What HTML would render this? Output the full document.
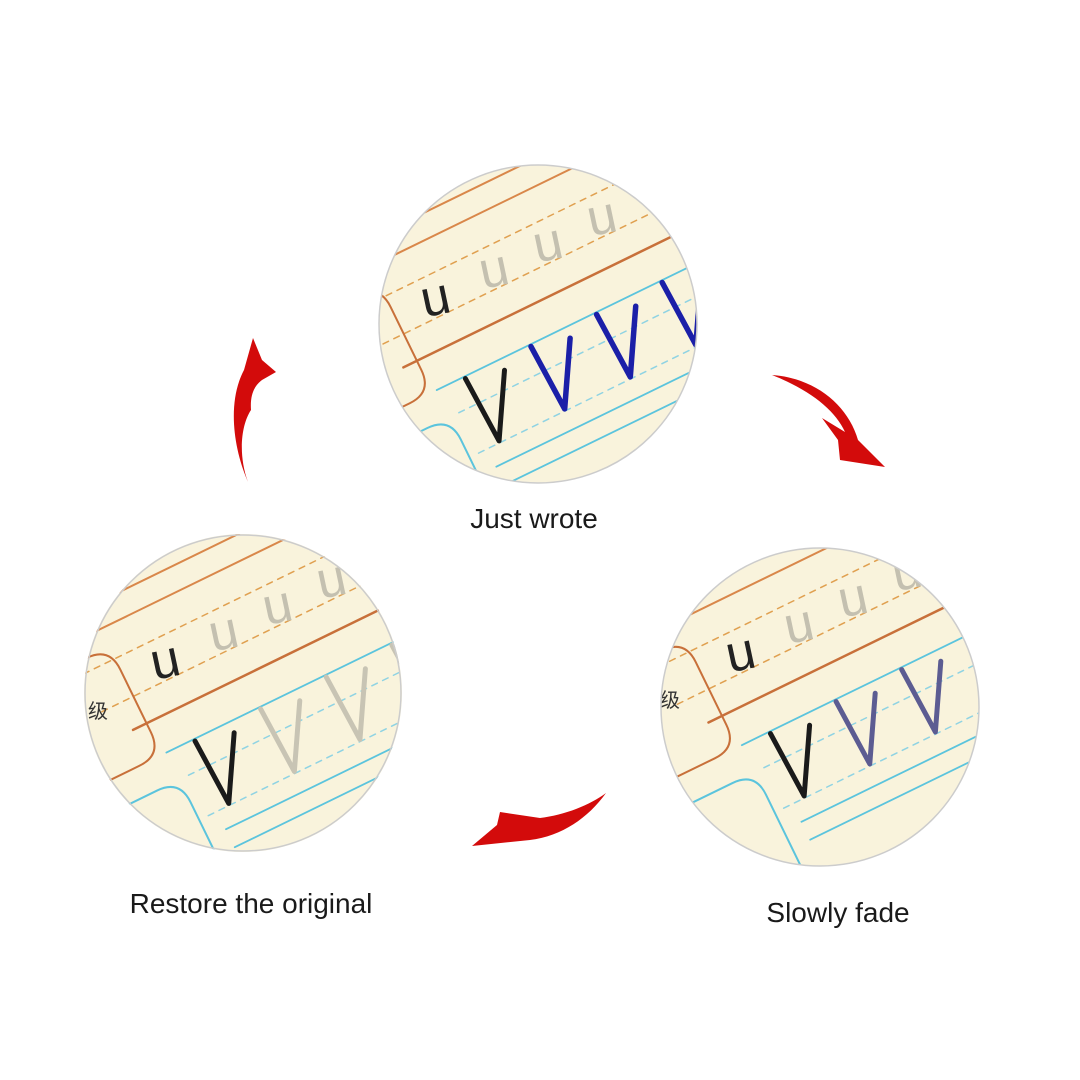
<!DOCTYPE html>
<html><head><meta charset="utf-8"><style>
html,body{margin:0;padding:0;background:#fff;}
svg{display:block}
text{font-family:"Liberation Sans",sans-serif}
</style></head><body>
<svg width="1080" height="1080" viewBox="0 0 1080 1080" xmlns="http://www.w3.org/2000/svg">
<defs>
<clipPath id="cc"><circle cx="0" cy="0" r="159"/></clipPath>
<g id="paper">
  <rect x="-300" y="-300" width="600" height="600" fill="#f9f3dc"/>
  <g fill="none" stroke-linecap="round">
    <line x1="-300" y1="-150" x2="300" y2="-150" stroke="#d9874a" stroke-width="2"/>
    <line x1="-300" y1="-125" x2="300" y2="-125" stroke="#d9874a" stroke-width="2"/>
    <line x1="-160" y1="-92" x2="300" y2="-92" stroke="#e0a050" stroke-width="1.5" stroke-dasharray="6 6"/>
    <line x1="-160" y1="-50" x2="300" y2="-50" stroke="#e0a050" stroke-width="1.5" stroke-dasharray="6 6"/>
    <line x1="-140" y1="-20" x2="300" y2="-20" stroke="#c8703a" stroke-width="2.5"/>
    <path d="M-300,-105 L-150,-105 Q-125,-105 -125,-80 L-125,-10 Q-125,15 -150,15 L-300,15" stroke="#c8703a" stroke-width="2"/>
    <line x1="-120" y1="15" x2="300" y2="15" stroke="#5bc4dd" stroke-width="1.8"/>
    <line x1="-110" y1="45" x2="300" y2="45" stroke="#8fd3e3" stroke-width="1.5" stroke-dasharray="6 6"/>
    <line x1="-110" y1="90" x2="300" y2="90" stroke="#8fd3e3" stroke-width="1.5" stroke-dasharray="6 6"/>
    <line x1="-100" y1="110" x2="300" y2="110" stroke="#5bc4dd" stroke-width="1.8"/>
    <line x1="-100" y1="130" x2="300" y2="130" stroke="#5bc4dd" stroke-width="1.8"/>
    <path d="M-300,45 L-145,45 Q-120,45 -120,70 L-120,300" stroke="#5bc4dd" stroke-width="2"/>
  </g>
  <g font-size="52" fill="#c4c0b0" text-anchor="middle">
    <text transform="translate(-20,-52) rotate(14)">u</text>
    <text transform="translate(40,-52) rotate(14)">u</text>
    <text transform="translate(100,-52) rotate(14)">u</text>
    <text transform="translate(160,-52) rotate(14)">u</text>
  </g>
  <text transform="translate(-85,-52) rotate(14)" font-size="52" fill="#222" text-anchor="middle">u</text>
  <path transform="translate(-78,55) rotate(14)" d="M-20,-34 L0,34 L20,-34" fill="none" stroke="#1a1a1a" stroke-width="5" stroke-linecap="round" stroke-linejoin="round"/>
</g>
</defs>

<g transform="translate(538,324)">
  <g clip-path="url(#cc)"><g transform="rotate(-26)">
    <use href="#paper"/>
    <g fill="none" stroke="#1b1fa8" stroke-width="5.5" stroke-linecap="round" stroke-linejoin="round">
      <path transform="translate(-5,55) rotate(14)" d="M-20,-34 L0,34 L20,-34"/>
      <path transform="translate(68,55) rotate(14)" d="M-20,-34 L0,34 L20,-34"/>
      <path transform="translate(141,55) rotate(14)" d="M-20,-34 L0,34 L20,-34"/>
    </g>
  </g></g>
  <circle r="159" fill="none" stroke="#ccc" stroke-width="1.5"/>
</g>

<g transform="translate(243,693)">
  <g clip-path="url(#cc)"><g transform="rotate(-26) translate(25,5)">
    <use href="#paper"/>
    <g fill="none" stroke="#c8c4b4" stroke-width="5" stroke-linecap="round" stroke-linejoin="round">
      <path transform="translate(-5,55) rotate(14)" d="M-20,-34 L0,34 L20,-34"/>
      <path transform="translate(68,55) rotate(14)" d="M-20,-34 L0,34 L20,-34"/>
      <path transform="translate(141,55) rotate(14)" d="M-20,-34 L0,34 L20,-34"/>
    </g>
  </g></g>
  <text x="-155" y="25" font-size="20" font-family="Noto Sans CJK SC,sans-serif" fill="#333">级</text>
  <circle r="158" fill="none" stroke="#ccc" stroke-width="1.5"/>
</g>

<g transform="translate(820,707)">
  <g clip-path="url(#cc)"><g transform="rotate(-26) translate(33,-15)">
    <use href="#paper"/>
    <g fill="none" stroke="#5c5c92" stroke-width="5" stroke-linecap="round" stroke-linejoin="round">
      <path transform="translate(-5,55) rotate(14)" d="M-20,-34 L0,34 L20,-34"/>
      <path transform="translate(68,55) rotate(14)" d="M-20,-34 L0,34 L20,-34"/>
      <path transform="translate(141,55) rotate(14)" d="M-20,-34 L0,34 L20,-34"/>
    </g>
  </g></g>
  <text x="-160" y="0" font-size="20" font-family="Noto Sans CJK SC,sans-serif" fill="#333">级</text>
  <circle r="159" fill="none" stroke="#ccc" stroke-width="1.5"/>
</g>

<g fill="#d30b0b">
  <path d="M248,482 C232,445 228,400 244,370 L253,338 L262,360 L276,372 L262,380 C254,386 250,395 251,410 C241,425 238,455 248,482 Z"/>
  <path d="M772,375 C815,378 848,405 858,440 L885,467 L840,460 L838,440 L822,418 L845,432 C835,410 810,390 772,375 Z"/>
  <path d="M606,793 C588,818 562,836 530,840 L472,846 L497,825 L500,812 L540,818 C565,815 590,805 606,793 Z"/>
</g>

<g font-size="28" fill="#1a1a1a" text-anchor="middle">
  <text x="534" y="528">Just wrote</text>
  <text x="251" y="913">Restore the original</text>
  <text x="838" y="922">Slowly fade</text>
</g>
</svg>
</body></html>
